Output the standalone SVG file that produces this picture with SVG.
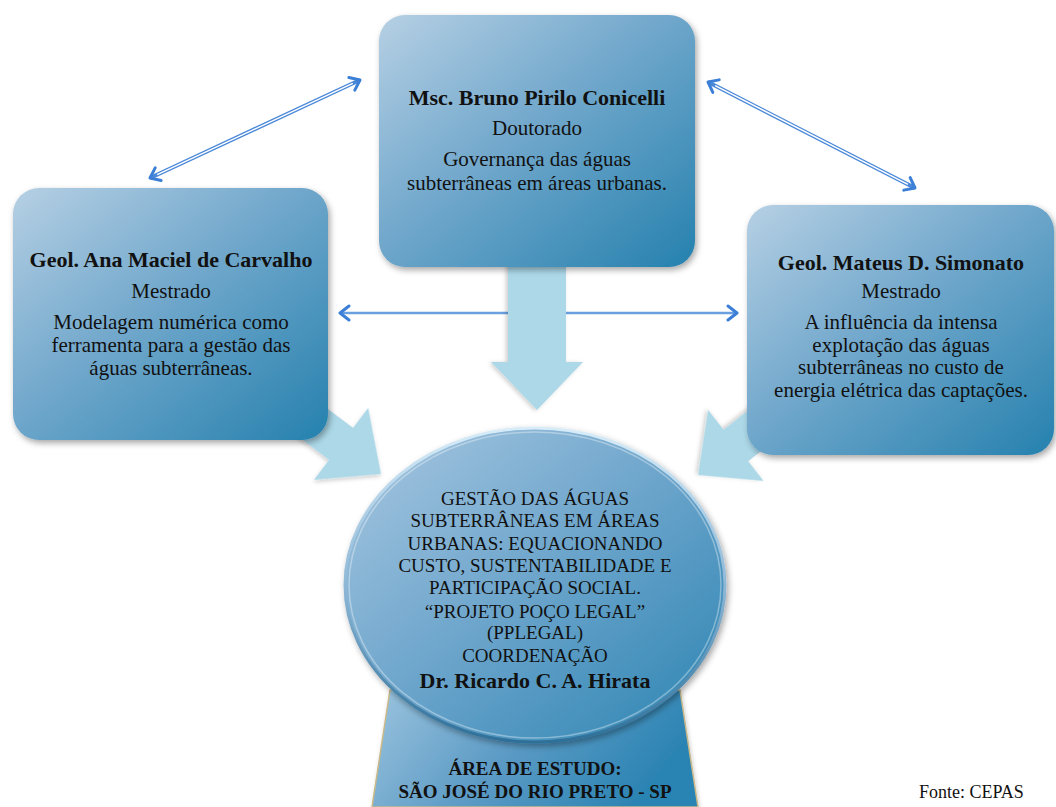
<svg xmlns="http://www.w3.org/2000/svg" width="1056" height="807" viewBox="0 0 1056 807">
<defs>
<style>
text{font-family:"Liberation Serif","Times New Roman",serif;fill:#111;text-anchor:middle}
.b{font-weight:bold;font-size:22px}
.r{font-size:21px}
.e{font-size:19px}
.eb{font-weight:bold;font-size:22px}
.tb{font-weight:bold;font-size:19px}
.big{fill:#acd8e8}
.thin{fill:none;stroke:#4a88d8;stroke-width:4}
.inner{fill:none;stroke:#fff;stroke-width:1.4}
.hline{fill:none;stroke:#6aa0e0;stroke-width:2.5}
</style>
<linearGradient id="gBox" x1="0" y1="0" x2="1" y2="1">
<stop offset="0" stop-color="#b6d0e4"/>
<stop offset="0.45" stop-color="#72a8cc"/>
<stop offset="1" stop-color="#2581ae"/>
</linearGradient>
<linearGradient id="gEll" x1="0" y1="0" x2="1" y2="1">
<stop offset="0" stop-color="#a9c8e1"/>
<stop offset="0.5" stop-color="#6ba4cb"/>
<stop offset="1" stop-color="#2a84b2"/>
</linearGradient>
<linearGradient id="gRim" x1="0" y1="0" x2="0" y2="1">
<stop offset="0" stop-color="#d8ecf8"/>
<stop offset="0.5" stop-color="#8fb8d6"/>
<stop offset="1" stop-color="#2e6f98"/>
</linearGradient>
<linearGradient id="gTrap" x1="0" y1="0" x2="1" y2="0.3">
<stop offset="0" stop-color="#9cc4de"/>
<stop offset="0.5" stop-color="#5e9cc6"/>
<stop offset="1" stop-color="#2c84b3"/>
</linearGradient>
<filter id="sh" x="-10%" y="-10%" width="125%" height="125%">
<feDropShadow dx="2" dy="3" stdDeviation="3" flood-color="#000" flood-opacity="0.35"/>
</filter>
<filter id="sh2" x="-10%" y="-10%" width="125%" height="125%">
<feDropShadow dx="1" dy="2" stdDeviation="2" flood-color="#000" flood-opacity="0.2"/>
</filter>
<marker id="chev" viewBox="-12 -9 14 18" markerWidth="14" markerHeight="18" refX="0" refY="0" orient="auto-start-reverse" markerUnits="userSpaceOnUse">
<path d="M -9 -7 L 0 0 L -9 7" fill="none" stroke="#3c7fd6" stroke-width="3" stroke-linecap="round" stroke-linejoin="round"/>
</marker>
</defs>
<rect width="1056" height="807" fill="#fff"/>

<g id="connectors">
<path class="thin" d="M150 178 L360 80" marker-start="url(#chev)" marker-end="url(#chev)"/>
<path class="inner" d="M157.2 174.6 L352.8 83.4"/>
<path class="thin" d="M708 82 L915 188" marker-start="url(#chev)" marker-end="url(#chev)"/>
<path class="inner" d="M715.1 85.6 L907.9 184.4"/>
<path class="hline" d="M340 313 L737 313" marker-start="url(#chev)" marker-end="url(#chev)"/>
<path class="big" filter="url(#sh2)" transform="translate(537,410) rotate(90)" d="M0 0 L-48 -46 L-48 -29 L-150 -29 L-150 29 L-48 29 L-48 46 Z"/>
<path class="big" filter="url(#sh2)" transform="translate(381,474) rotate(37)" d="M0 0 L-50 -45 L-50 -20 L-150 -20 L-150 20 L-50 20 L-50 45 Z"/>
<path class="big" filter="url(#sh2)" transform="translate(698,475) rotate(142)" d="M0 0 L-48 -45 L-48 -20 L-150 -20 L-150 20 L-48 20 L-48 45 Z"/>
</g>

<g id="node-top">
<rect x="379" y="15" width="316" height="252" rx="26" fill="url(#gBox)" filter="url(#sh)"/>
<text class="b" x="537" y="105">Msc. Bruno Pirilo Conicelli</text>
<text class="r" x="537" y="135">Doutorado</text>
<text class="r" x="537" y="166">Governança das águas</text>
<text class="r" x="537" y="190">subterrâneas em áreas urbanas.</text>
</g>

<g id="node-left">
<rect x="13" y="188" width="315" height="252" rx="26" fill="url(#gBox)" filter="url(#sh)"/>
<text class="b" x="171" y="267">Geol. Ana Maciel de Carvalho</text>
<text class="r" x="171" y="298">Mestrado</text>
<text class="r" x="171" y="329">Modelagem numérica como</text>
<text class="r" x="171" y="352">ferramenta para a gestão das</text>
<text class="r" x="171" y="375">águas subterrâneas.</text>
</g>

<g id="node-right">
<rect x="747" y="205" width="307" height="250" rx="26" fill="url(#gBox)" filter="url(#sh)"/>
<text class="b" x="901" y="270">Geol. Mateus D. Simonato</text>
<text class="r" x="901" y="298">Mestrado</text>
<text class="r" x="901" y="329">A influência da intensa</text>
<text class="r" x="901" y="352">explotação das águas</text>
<text class="r" x="901" y="374">subterrâneas no custo de</text>
<text class="r" x="901" y="397">energia elétrica das captações.</text>
</g>

<g id="node-area">
<path d="M390 690 L680 690 L698 807 L372 807 Z" fill="url(#gTrap)" stroke="#c9b98a" stroke-width="1.5" filter="url(#sh2)"/>
<text class="tb" x="535" y="775">ÁREA DE ESTUDO:</text>
<text class="tb" x="535" y="798">SÃO JOSÉ DO RIO PRETO - SP</text>
</g>

<g id="node-center">
<ellipse cx="535" cy="585" rx="190" ry="157" fill="url(#gEll)" stroke="url(#gRim)" stroke-width="3" filter="url(#sh)"/>
<ellipse cx="535" cy="585" rx="186" ry="153" fill="none" stroke="#ffffff" stroke-opacity="0.35" stroke-width="1.5"/>
<text class="e" x="535" y="505">GESTÃO DAS ÁGUAS</text>
<text class="e" x="535" y="527">SUBTERRÂNEAS EM ÁREAS</text>
<text class="e" x="535" y="550">URBANAS: EQUACIONANDO</text>
<text class="e" x="535" y="572">CUSTO, SUSTENTABILIDADE E</text>
<text class="e" x="535" y="594">PARTICIPAÇÃO SOCIAL.</text>
<text class="e" x="535" y="618">“PROJETO POÇO LEGAL”</text>
<text class="e" x="535" y="639">(PPLEGAL)</text>
<text class="e" x="535" y="662">COORDENAÇÃO</text>
<text class="eb" x="535" y="688">Dr. Ricardo C. A. Hirata</text>
</g>

<text x="919" y="798" style="font-size:18px;text-anchor:start">Fonte: CEPAS</text>
</svg>
